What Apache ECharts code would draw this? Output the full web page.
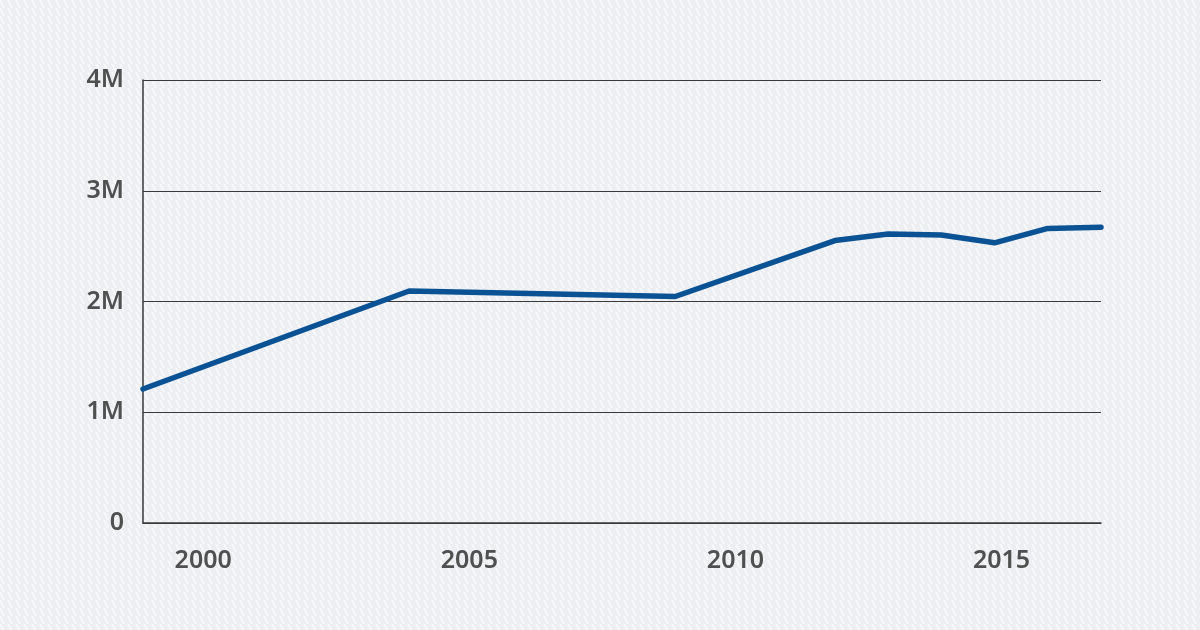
<!DOCTYPE html>
<html>
<head>
<meta charset="utf-8">
<script src="https://cdn.jsdelivr.net/npm/echarts@6/dist/echarts.min.js"></script>
<style>
  html, body { margin: 0; padding: 0; }
  #chart { width: 1200px; height: 630px; }
</style>
</head>
<body>
<div id="chart"></div>
<script>
// data
var years = [1999, 2004, 2009, 2012, 2013, 2014, 2015, 2016, 2017];
var values = [1.21, 2.095, 2.045, 2.55, 2.61, 2.60, 2.53, 2.66, 2.67]; // millions
var yTickLabels = ['0', '1M', '2M', '3M', '4M'];
var xTickYears = [2000, 2005, 2010, 2015];

// striped background like the reference
function stripes() {
    var c = document.createElement('canvas');
    c.width = 8;
    c.height = 8;
    var ctx = c.getContext('2d');
    ctx.fillStyle = '#eceef1';
    ctx.fillRect(0, 0, 8, 8);
    ctx.strokeStyle = '#f7f8f9';
    ctx.lineWidth = 2;
    ctx.beginPath();
    for (var k = -8; k <= 16; k += 8) {
        ctx.moveTo(k, 0);
        ctx.lineTo(k + 8 * 0.5, 8);
    }
    ctx.stroke();
    return c;
}

var points = [];
for (var i = 0; i < years.length; i++) {
    points.push([years[i], values[i]]);
}

var myChart = echarts.init(document.getElementById('chart'));
myChart.setOption({
    animation: false,
    backgroundColor: {image: stripes(), repeat: 'repeat'},
    grid: {left: 143, right: 99, top: 80, bottom: 107},
    xAxis: {
        type: 'value',
        min: 1999,
        max: 2017,
        interval: 1,
        axisLine: {show: true, lineStyle: {color: '#3a3a3a', width: 1.5}},
        axisTick: {show: false},
        splitLine: {show: false},
        axisLabel: {
            margin: 25,
            fontFamily: 'Noto Sans',
            fontSize: 25,
            fontWeight: 600,
            color: '#505050',
            padding: [0, 0, 0, 14],
            showMinLabel: true,
            showMaxLabel: true,
            formatter: function(v) {
                return xTickYears.indexOf(v) >= 0 ? String(v) : '';
            }
        }
    },
    yAxis: {
        type: 'value',
        min: 0,
        max: 4,
        interval: 1,
        axisLine: {show: true, lineStyle: {color: '#3a3a3a', width: 1.5}},
        axisTick: {show: false},
        splitLine: {show: true, lineStyle: {color: '#3a3a3a', width: 1}},
        axisLabel: {
            margin: 19,
            fontFamily: 'Noto Sans',
            fontSize: 25,
            fontWeight: 600,
            color: '#505050',
            formatter: function(v) {
                return yTickLabels[v];
            }
        }
    },
    series: [{
        type: 'line',
        data: points,
        showSymbol: false,
        lineStyle: {color: '#0b5294', width: 5.5, cap: 'round', join: 'round'},
        z: 3
    }]
});
</script>
</body>
</html>
